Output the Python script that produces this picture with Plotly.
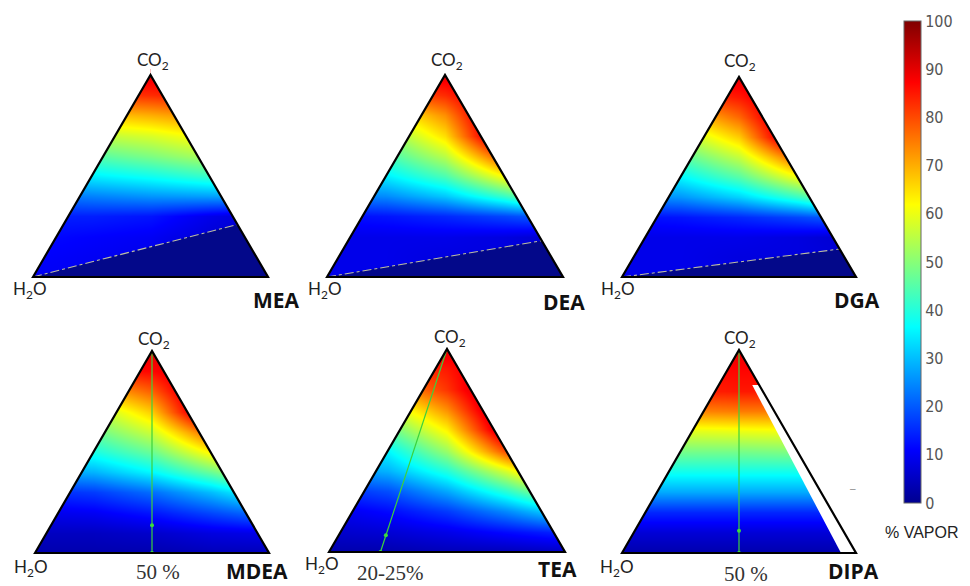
import plotly.graph_objects as go

# ---------------- data ----------------
F_LEVELS = [0.0, 0.1, 0.2, 0.3, 0.4, 0.5, 0.6, 0.7, 0.8, 0.9, 1.0]   # CO2 height fraction
X_COLS = [0.0, 0.25, 0.5, 0.75, 1.0]                                   # horizontal position

MEA_VAPOR = [
    [10, 10, 9, 7, 5],
    [11, 10, 9, 7, 5],
    [12, 11, 10, 7, 5],
    [14, 14, 13, 9, 6],
    [22, 24, 26, 27, 28],
    [32, 35, 38, 42, 45],
    [42, 45, 49, 54, 58],
    [52, 55, 58, 63, 68],
    [64, 67, 70, 74, 78],
    [80, 81, 83, 86, 88],
    [92, 92, 90, 90, 92],
]
DEA_VAPOR = [
    [9, 9, 9, 8, 7],
    [9, 9, 8, 8, 7],
    [9, 9, 9, 8, 6],
    [12, 13, 15, 18, 22],
    [23, 25, 31, 42, 56],
    [33, 35, 44, 62, 84],
    [40, 43, 55, 81, 100],
    [46, 50, 65, 100, 100],
    [55, 60, 73, 100, 100],
    [74, 77, 83, 95, 100],
    [90, 90, 90, 90, 90],
]
DGA_VAPOR = [
    [9, 9, 9, 8, 7],
    [9, 9, 8, 8, 7],
    [9, 9, 9, 8, 6],
    [12, 13, 15, 18, 22],
    [24, 26, 32, 42, 56],
    [34, 36, 45, 61, 84],
    [42, 45, 56, 79, 100],
    [50, 54, 67, 100, 100],
    [60, 65, 77, 100, 100],
    [77, 80, 85, 95, 100],
    [90, 90, 90, 90, 90],
]
MDEA_VAPOR = [
    [3, 3, 3, 4, 4],
    [5, 5, 6, 8, 9],
    [9, 10, 13, 18, 23],
    [15, 17, 22, 30, 40],
    [27, 29, 36, 47, 61],
    [36, 39, 47, 63, 83],
    [44, 47, 57, 79, 100],
    [50, 54, 67, 100, 100],
    [64, 68, 78, 100, 100],
    [82, 84, 87, 95, 100],
    [90, 90, 90, 90, 90],
]
TEA_VAPOR = [
    [3, 3, 4, 4, 5],
    [6, 7, 9, 12, 15],
    [9, 12, 17, 25, 35],
    [15, 19, 28, 41, 57],
    [25, 29, 40, 58, 80],
    [32, 36, 52, 80, 100],
    [42, 46, 63, 96, 100],
    [52, 56, 73, 100, 100],
    [64, 70, 82, 100, 100],
    [78, 80, 85, 95, 100],
    [90, 90, 90, 90, 90],
]
DIPA_VAPOR = [
    [3, 3, 3, 3, 3],
    [7, 7, 7, 7, 7],
    [15, 15, 15, 15, 15],
    [28, 28, 28, 28, 28],
    [38, 38, 38, 38, 38],
    [48, 48, 48, 49, 50],
    [59, 59, 60, 61, 61],
    [74, 74, 75, 75, 76],
    [84, 84, 85, 85, 85],
    [86, 86, 87, 87, 87],
    [90, 90, 90, 90, 90],
]

AMINES = ["MEA", "DEA", "DGA", "MDEA", "TEA", "DIPA"]
VAPOR = [MEA_VAPOR, DEA_VAPOR, DGA_VAPOR, MDEA_VAPOR, TEA_VAPOR, DIPA_VAPOR]

# liquid boundary (dashed) in top row: CO2 fraction where it meets the right edge
BOUNDARY_F = {"MEA": 0.26, "DEA": 0.18, "DGA": 0.14}
# green operating lines in bottom row: base x, marked point (x, f)
GREEN_BASE_X = {"MDEA": 0.5, "TEA": 0.218, "DIPA": 0.5}
GREEN_DOT = {"MDEA": (0.5, 0.137), "TEA": (0.241, 0.082), "DIPA": (0.5, 0.11)}
BASE_LABELS = {"MDEA": "50 %", "TEA": "20-25%", "DIPA": "50 %"}
# DIPA: empty (white) strip along the right side: inner edge at base, top level
DIPA_GAP_BASE_X = 0.936
DIPA_GAP_TOP_F = 0.827

CB_TICKS = [0, 10, 20, 30, 40, 50, 60, 70, 80, 90, 100]

# ---------------- layout geometry (pixels) ----------------
W_PX, H_PX = 970, 586
# left x, right x, base y, apex y
TRI_PX = {
    "MEA": (33, 268, 277, 75),
    "DEA": (327, 563, 277, 75),
    "DGA": (622, 856, 277, 77),
    "MDEA": (35, 269, 553, 351),
    "TEA": (329, 565, 552, 349),
    "DIPA": (622, 856, 553, 350),
}
LABEL_PX = {
    "MEA": dict(co2=(153, 61), h2o=(30, 290), name=(276, 300)),
    "DEA": dict(co2=(447, 61), h2o=(325, 290), name=(564, 302)),
    "DGA": dict(co2=(740, 62), h2o=(618, 290), name=(857, 300)),
    "MDEA": dict(co2=(154, 340), h2o=(31, 568), name=(257, 571), base=(158, 572)),
    "TEA": dict(co2=(450, 338), h2o=(322, 565), name=(557, 569), base=(390, 573)),
    "DIPA": dict(co2=(740, 339), h2o=(617, 568), name=(853, 571), base=(746, 574)),
}

JET = [
    [0.0, "rgb(0,0,143)"],
    [0.111, "rgb(0,0,255)"],
    [0.365, "rgb(0,255,255)"],
    [0.619, "rgb(255,255,0)"],
    [0.873, "rgb(255,0,0)"],
    [1.0, "rgb(128,0,0)"],
]

PAD = 0.03
fig = go.Figure()
shapes = []
annotations = []
layout_axes = {}

SANS = "Lato, Open Sans, sans-serif"
BOLD = "Open Sans, Lato, sans-serif"

for i, name in enumerate(AMINES):
    n = i + 1
    xs = "x" if n == 1 else f"x{n}"
    ys = "y" if n == 1 else f"y{n}"
    xl, xr, yb, ya = TRI_PX[name]
    W = xr - xl
    H = yb - ya
    dx0 = (xl - PAD * W) / W_PX
    dx1 = (xr + PAD * W) / W_PX
    dy0 = 1 - (yb + PAD * H) / H_PX
    dy1 = 1 - (ya - PAD * H) / H_PX
    layout_axes[f"xaxis{'' if n == 1 else n}"] = dict(
        domain=[dx0, dx1], range=[-PAD, 1 + PAD], visible=False, fixedrange=True, anchor=ys)
    layout_axes[f"yaxis{'' if n == 1 else n}"] = dict(
        domain=[dy0, dy1], range=[-PAD, 1 + PAD], visible=False, fixedrange=True, anchor=xs)

    fig.add_trace(go.Heatmap(
        x=X_COLS, y=F_LEVELS, z=VAPOR[i], coloraxis="coloraxis", zsmooth="best",
        xaxis=xs, yaxis=ys, hoverinfo="skip", showscale=False))

    if name in BOUNDARY_F:
        fb = BOUNDARY_F[name]
        xe = 1 - 0.5 * fb
        fig.add_trace(go.Scatter(
            x=[0, 1, xe, 0], y=[0, 0, fb, 0], mode="lines", fill="toself",
            fillcolor="rgb(3,8,138)", line=dict(width=0), xaxis=xs, yaxis=ys,
            hoverinfo="skip", showlegend=False))
        fig.add_trace(go.Scatter(
            x=[0, xe], y=[0, fb], mode="lines",
            line=dict(color="rgb(190,190,160)", width=1.1, dash="dashdot"),
            xaxis=xs, yaxis=ys, hoverinfo="skip", showlegend=False))

    xref = xs
    yref = ys
    E = PAD + 0.05
    # white masks outside triangle
    shapes.append(dict(type="path", xref=xref, yref=yref, layer="above",
                       path=f"M {-E},{-E} L {1+E},{-E} L {1+E},0 L {-E},0 Z",
                       fillcolor="white", line=dict(width=0)))
    shapes.append(dict(type="path", xref=xref, yref=yref, layer="above",
                       path=f"M {-E},0 L 0,0 L 0.5,1 L 0.5,{1+E} L {-E},{1+E} Z",
                       fillcolor="white", line=dict(width=0)))
    shapes.append(dict(type="path", xref=xref, yref=yref, layer="above",
                       path=f"M {1+E},0 L 1,0 L 0.5,1 L 0.5,{1+E} L {1+E},{1+E} Z",
                       fillcolor="white", line=dict(width=0)))
    if name == "DIPA":
        xt = 1 - 0.5 * DIPA_GAP_TOP_F
        shapes.append(dict(type="path", xref=xref, yref=yref, layer="above",
                           path=f"M {DIPA_GAP_BASE_X},0 L 1,0 L {xt},{DIPA_GAP_TOP_F} L {xt-0.03},{DIPA_GAP_TOP_F} Z",
                           fillcolor="white", line=dict(width=0)))

    if name in GREEN_BASE_X:
        bx = GREEN_BASE_X[name]
        gx, gf = GREEN_DOT[name]
        fig.add_trace(go.Scatter(
            x=[0.5, bx], y=[1, 0], mode="lines",
            line=dict(color="rgb(60,210,60)", width=1.2),
            xaxis=xs, yaxis=ys, hoverinfo="skip", showlegend=False))
        fig.add_trace(go.Scatter(
            x=[0.5, gx, bx], y=[1, gf, 0], mode="markers",
            marker=dict(color="rgb(60,220,60)", size=4),
            xaxis=xs, yaxis=ys, hoverinfo="skip", showlegend=False))

    # triangle outline
    shapes.append(dict(type="path", xref=xref, yref=yref, layer="above",
                       path="M 0,0 L 0.5,1 L 1,0 Z",
                       line=dict(color="black", width=2.2)))

    lab = LABEL_PX[name]
    annotations.append(dict(text="CO<sub>2</sub>", x=lab["co2"][0] / W_PX, y=1 - lab["co2"][1] / H_PX,
                            xref="paper", yref="paper", showarrow=False, xanchor="center", yanchor="middle",
                            font=dict(family=SANS, size=17, color="#222")))
    annotations.append(dict(text="H<sub>2</sub>O", x=lab["h2o"][0] / W_PX, y=1 - lab["h2o"][1] / H_PX,
                            xref="paper", yref="paper", showarrow=False, xanchor="center", yanchor="middle",
                            font=dict(family=SANS, size=17, color="#222")))
    annotations.append(dict(text=f"<b>{name}</b>", x=lab["name"][0] / W_PX, y=1 - lab["name"][1] / H_PX,
                            xref="paper", yref="paper", showarrow=False, xanchor="center", yanchor="middle",
                            font=dict(family=BOLD, size=21, color="#111")))
    if name in BASE_LABELS:
        annotations.append(dict(text=BASE_LABELS[name], x=lab["base"][0] / W_PX, y=1 - lab["base"][1] / H_PX,
                                xref="paper", yref="paper", showarrow=False, xanchor="center", yanchor="middle",
                                font=dict(family="Liberation Serif, serif", size=21, color="#333")))

annotations.append(dict(text="% VAPOR", x=922 / W_PX, y=1 - 532 / H_PX, xref="paper", yref="paper",
                        showarrow=False, xanchor="center", yanchor="middle",
                        font=dict(family="Liberation Sans, Arial, sans-serif", size=16, color="#222")))
# stray short mark to the right of DIPA in the source figure
annotations.append(dict(text="–", x=853 / W_PX, y=1 - 488 / H_PX, xref="paper", yref="paper",
                        showarrow=False, xanchor="center", yanchor="middle",
                        font=dict(family="Liberation Sans, Arial, sans-serif", size=10, color="#888")))

fig.update_layout(
    width=W_PX, height=H_PX, autosize=False,
    margin=dict(l=0, r=0, t=0, b=0, autoexpand=False),
    paper_bgcolor="white", plot_bgcolor="white",
    showlegend=False,
    shapes=shapes,
    annotations=annotations,
    coloraxis=dict(
        cmin=0, cmax=100, colorscale=JET,
        colorbar=dict(
            x=904 / W_PX, xanchor="left", xpad=0,
            y=1 - 21 / H_PX, yanchor="top", ypad=0,
            len=482 / H_PX, lenmode="fraction",
            thickness=17, thicknessmode="pixels",
            outlinewidth=1, outlinecolor="#666",
            tickvals=CB_TICKS, ticks="",
            tickfont=dict(family="Liberation Sans Narrow, DejaVu Sans Condensed, sans-serif", size=16, color="#555"),
        ),
    ),
    **layout_axes,
)

fig.write_html("out.html", config={"displayModeBar": False},
               post_script="document.body.style.margin='0px';document.body.style.overflow='hidden';")
